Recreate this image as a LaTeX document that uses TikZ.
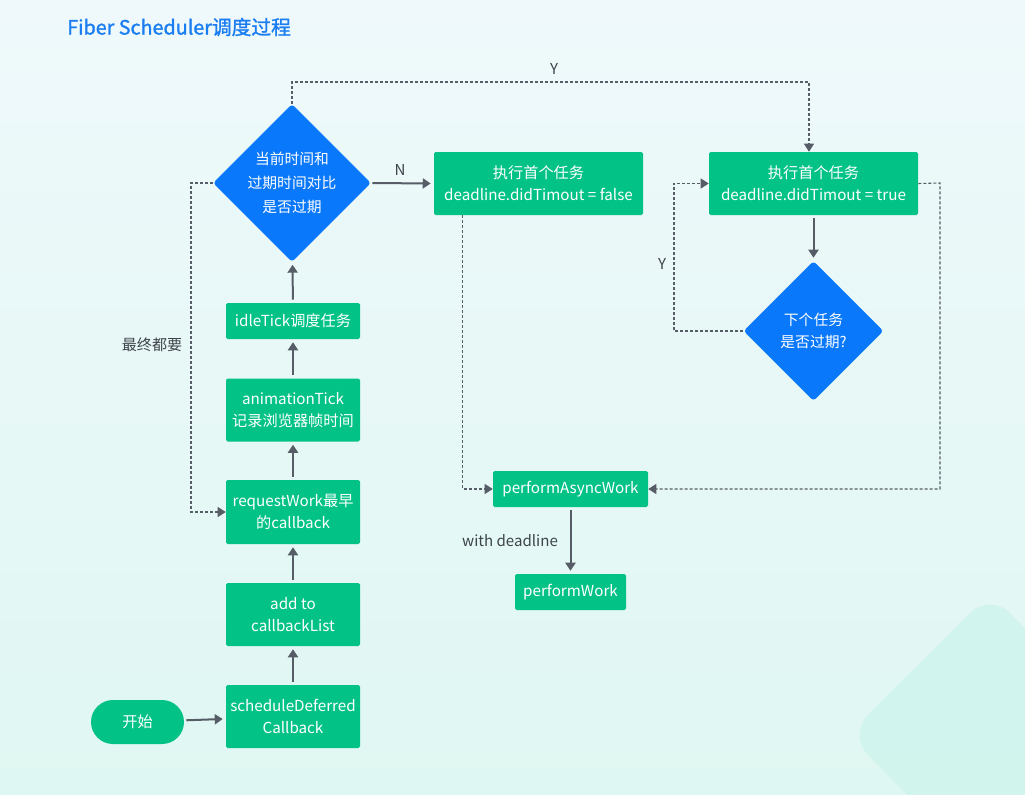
\documentclass[tikz,border=0pt]{standalone}
\usepackage{fontspec}
\setmainfont{Noto Sans CJK SC}
\newfontfamily\ttlfont[FakeBold=1.3]{Noto Sans CJK SC}
\usetikzlibrary{shapes.geometric,arrows.meta,calc}
\definecolor{bgtop}{HTML}{EFF9FB}
\definecolor{bgbot}{HTML}{DFF7F2}
\definecolor{deco}{HTML}{CCF3EC}
\definecolor{boxgreen}{HTML}{03C286}
\definecolor{dblue}{HTML}{0A78FA}
\definecolor{ttlblue}{HTML}{1A7EF2}
\definecolor{arrowgray}{HTML}{565D66}
\definecolor{dashgray}{HTML}{979CA2}
\definecolor{lblgray}{HTML}{3E444C}
\tikzset{
  gbox/.style={rectangle, rounded corners=1.2pt, fill=boxgreen, text=white, font=\fontsize{11.4pt}{16.5pt}\selectfont, align=center, inner sep=0pt},
  dia/.style={diamond, aspect=1, fill=dblue, text=white, rounded corners=2.5pt, inner sep=0pt, align=center},
  solidarrow/.style={draw=arrowgray, line width=1.5pt, -{Triangle[length=6pt,width=7.5pt]}, shorten >=2.25pt, shorten <=2.25pt},
  dasharrow/.style={draw=dashgray, line width=0.8pt, dash pattern=on 2.25pt off 1.5pt, -{Triangle[length=6pt,width=7.5pt,fill=arrowgray]}, arrowgray},
  lbl/.style={text=lblgray, font=\fontsize{11.3pt}{14pt}\selectfont, inner sep=0pt}
}
\begin{document}
\begin{tikzpicture}[x=0.75pt, y=-0.75pt]
\useasboundingbox (0,0) rectangle (1025,794);
\shade[top color=bgtop, bottom color=bgbot] (0,0) rectangle (1025,794);
\begin{scope}
\clip (0,0) rectangle (1025,794);
\fill[deco, opacity=0.7, rounded corners=21pt] (848,735) -- (990,593) -- (1132,735) -- (990,877) -- cycle;
\end{scope}

\node[anchor=west, text=ttlblue, font=\ttlfont\fontsize{14.8pt}{17pt}\selectfont, inner sep=0pt] (title) at (67,27) {Fiber Scheduler调度过程};

% left column
\node[dia, minimum width=118.5pt, minimum height=118.5pt, font=\fontsize{11.1pt}{18pt}\selectfont] (d1) at (292,183) {当前时间和\\过期时间对比\\是否过期};
\node[gbox, minimum width=100.5pt, minimum height=27pt] (idle) at (293,321) {idleTick调度任务};
\node[gbox, minimum width=100.5pt, minimum height=47.25pt] (anim) at (293,410) {animationTick\\记录浏览器帧时间};
\node[gbox, minimum width=100.5pt, minimum height=48pt] (req) at (293,512) {requestWork最早\\的callback};
\node[gbox, minimum width=100.5pt, minimum height=47.25pt] (add) at (293,614.5) {add to\\callbackList};
\node[gbox, minimum width=100.5pt, minimum height=47.25pt] (sched) at (293,716.5) {scheduleDeferred\\Callback};
\node[gbox, rounded corners=16.5pt, minimum width=69.75pt, minimum height=33pt] (start) at (137.5,722) {开始};

% right part
\node[gbox, minimum width=156.75pt, minimum height=47.25pt] (fbox) at (538.5,183.5) {执行首个任务\\deadline.didTimout = false};
\node[gbox, minimum width=156.75pt, minimum height=47.25pt] (tbox) at (813.5,183.5) {执行首个任务\\deadline.didTimout = true};
\node[dia, minimum width=105pt, minimum height=105pt, font=\fontsize{11.1pt}{17pt}\selectfont] (d2) at (813.5,331) {下个任务\\是否过期?};
\node[gbox, minimum width=116.25pt, minimum height=27pt] (paw) at (570.5,489) {performAsyncWork};
\node[gbox, minimum width=83.25pt, minimum height=27pt] (pw) at (570.5,592) {performWork};

% labels
\node[lbl] (lN) at (400,170) {N};
\node[lbl] (lY1) at (554,69) {Y};
\node[lbl] (lY2) at (662,264) {Y};
\node[lbl] (lfin) at (152,345) {最终都要};
\node[lbl] (lwd) at (510,541) {with deadline};

% coordinates
\coordinate (ytop) at (809,82);
\coordinate (lft) at (191,183);
\coordinate (rgt) at (940,183);
\coordinate (d2l) at (674,331);

% solid arrows
\draw[solidarrow, shorten <=1.5pt] (start) -- (sched);
\draw[solidarrow] (sched) -- (add);
\draw[solidarrow] (add) -- (req);
\draw[solidarrow] (req) -- (anim);
\draw[solidarrow] (anim) -- (idle);
\draw[solidarrow] (idle) -- (d1);
\draw[solidarrow, shorten <=0.75pt] (d1.east) -- (fbox.west);
\draw[solidarrow] (tbox) -- (d2);
\draw[solidarrow] (paw) -- (pw);

% dashed connectors
\draw[dasharrow] (d1.north) |- (ytop) -- (ytop |- tbox.north);
\draw[dasharrow] (d1.west) -- (lft) |- (req.west);
\draw[dasharrow] ([xshift=21.75pt]fbox.south west) |- (paw.west);
\draw[dasharrow] (tbox.east) -- (rgt) |- (paw.east);
\draw[dasharrow] (d2.west) -- (d2l) |- (tbox.west);
\end{tikzpicture}
\end{document}
